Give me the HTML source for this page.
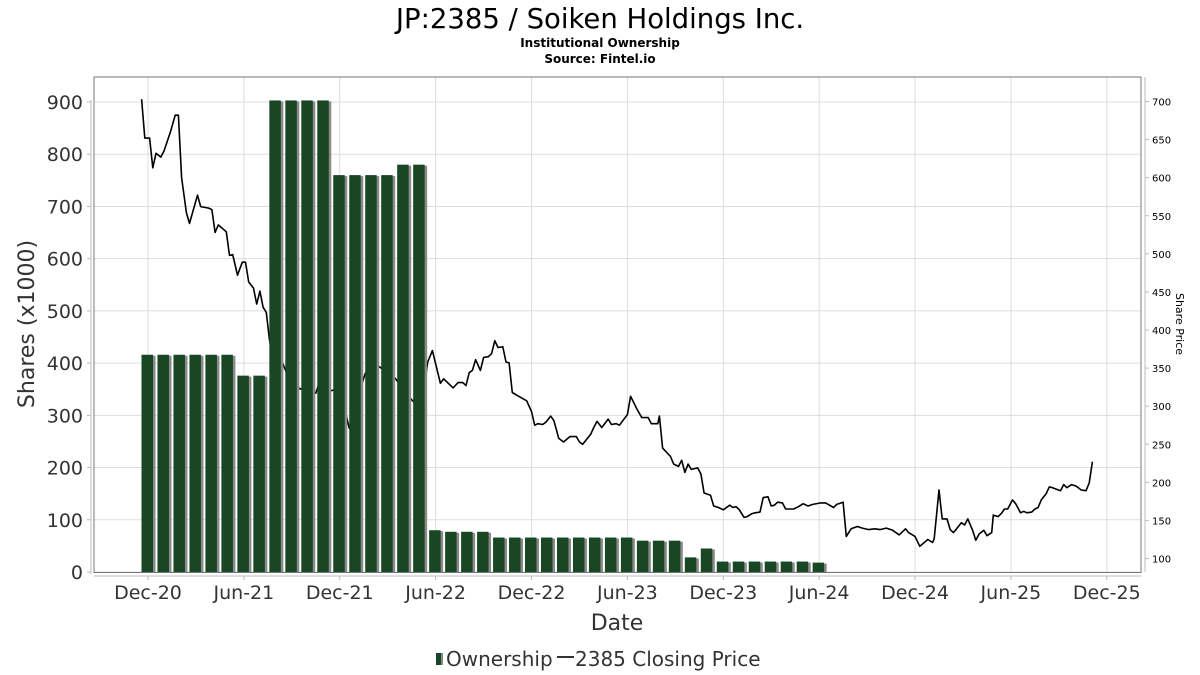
<!DOCTYPE html>
<html><head><meta charset="utf-8">
<style>
body{margin:0;background:#fff;}
svg{display:block;font-family:"DejaVu Sans","Liberation Sans",sans-serif;}
</style></head>
<body>
<svg id="chart" width="1200" height="675" viewBox="0 0 1200 675">
<text x="600" y="28" text-anchor="middle" font-size="27.5" fill="#000">JP:2385 / Soiken Holdings Inc.</text>
<text x="600" y="47" text-anchor="middle" font-size="12" font-weight="bold" fill="#000">Institutional Ownership</text>
<text x="600" y="63" text-anchor="middle" font-size="12" font-weight="bold" fill="#000">Source: Fintel.io</text>
<g id="grid"></g>
<g id="lineg"></g>
<g id="bars"></g>
<rect x="94" y="77" width="1047" height="495.5" fill="none" stroke="#777" stroke-width="1"/>
<line x1="91" y1="100" x2="91" y2="574" stroke="#bbb"/>
<line x1="94" y1="576" x2="1141" y2="576" stroke="#bbb"/>
<line x1="1145" y1="77" x2="1145" y2="572" stroke="#bbb"/>
<g id="axes"></g>
<text x="617" y="630" text-anchor="middle" font-size="22" fill="#333">Date</text>
<text transform="translate(34,324) rotate(-90)" text-anchor="middle" font-size="22" fill="#333">Shares (x1000)</text>
<text transform="translate(1176,324) rotate(90)" text-anchor="middle" font-size="11" fill="#000">Share Price</text>
<g>
<g>
<rect x="436" y="653" width="5" height="12" fill="#1a4723"/><rect x="441" y="653" width="2" height="12" fill="#888"/>
<text x="446" y="666" font-size="20" fill="#333">Ownership</text></g>
<g>
<line x1="557" y1="657" x2="574" y2="657" stroke="#333" stroke-width="2"/>
<text x="575" y="666" font-size="20" fill="#333">2385 Closing Price</text></g>
</g>
</svg>
<script>
const barMonths=[0,1,2,3,4,5,6,7,8,9,10,11,12,13,14,15,16,17,18,19,20,21,22,23,24,25,26,27,28,29,30,31,32,33,34,35,36,37,38,39,40,41,42];
const barValues=[416,416,416,416,416,416,376,376,903,903,903,903,760,760,760,760,780,780,80,77,77,77,66,66,66,66,66,66,66,66,66,60,60,60,28,45,20,20,20,20,20,20,18];
const xTickLabels=["Dec-20","Jun-21","Dec-21","Jun-22","Dec-22","Jun-23","Dec-23","Jun-24","Dec-24","Jun-25","Dec-25"];
const xTickMonths=[0,6,12,18,24,30,36,42,48,54,60];
const leftTicks=[0,100,200,300,400,500,600,700,800,900];
const rightTicks=[100,150,200,250,300,350,400,450,500,550,600,650,700];
const priceMonths=[-0.4,-0.2,0.1,0.3,0.5,0.8,1.0,1.4,1.7,1.9,2.1,2.4,2.6,3.1,3.3,3.8,4.0,4.2,4.4,4.9,5.1,5.3,5.6,5.9,6.1,6.3,6.6,6.8,7.0,7.2,7.4,7.6,8.1,8.4,8.9,9.5,10.5,10.8,11.4,12.0,12.6,13.1,13.6,14.2,14.8,15.5,16.1,16.7,17.1,17.5,17.8,18.3,18.5,18.9,19.1,19.4,19.7,19.9,20.1,20.3,20.5,20.8,21.0,21.3,21.5,21.7,21.9,22.2,22.4,22.6,22.8,23.2,23.7,24.0,24.2,24.4,24.7,24.9,25.2,25.4,25.7,26.0,26.4,26.8,27.0,27.2,27.7,27.9,28.1,28.4,28.8,29.0,29.3,29.5,30.0,30.2,30.6,30.9,31.3,31.5,31.9,32.0,32.2,32.7,32.9,33.2,33.4,33.6,33.8,34.0,34.4,34.6,34.8,35.2,35.4,35.7,36.0,36.4,36.6,36.8,37.0,37.3,37.5,37.8,38.0,38.3,38.5,38.8,39.0,39.2,39.4,39.7,39.9,40.4,40.7,41.0,41.3,41.6,42.1,42.4,42.9,43.1,43.5,43.7,44.0,44.4,44.7,45.1,45.5,45.8,46.2,46.6,47.0,47.4,47.6,48.0,48.3,48.8,49.1,49.2,49.5,49.7,50.0,50.2,50.4,50.6,50.9,51.1,51.3,51.6,51.8,52.0,52.3,52.5,52.8,52.9,53.2,53.4,53.6,53.8,54.1,54.3,54.6,54.8,55.0,55.3,55.5,55.7,55.9,56.2,56.4,56.6,57.1,57.3,57.5,57.8,58.1,58.4,58.7,58.9,59.1];
const priceValues=[703,652,652,613,632,627,635,660,682,682,600,554,540,577,562,560,558,528,538,529,498,499,472,489,489,463,455,434,451,430,423,388,323,358,332,323,317,336,320,323,271,310,343,356,347,336,317,304,297,358,373,330,336,328,324,331,331,327,344,347,361,347,364,365,369,386,377,378,358,357,318,313,307,293,275,277,276,279,287,281,258,253,260,260,253,250,263,272,280,272,283,276,277,275,289,313,296,285,285,277,277,287,245,234,224,221,229,213,224,217,219,211,186,183,169,167,164,170,167,168,164,154,155,159,160,161,180,181,169,170,174,173,165,165,168,172,169,171,173,173,167,171,174,129,139,142,140,138,139,138,140,137,131,139,134,129,116,125,121,126,190,152,152,138,134,139,147,144,152,137,124,132,137,130,134,157,155,159,165,165,177,172,160,162,160,161,165,167,177,185,194,193,189,197,193,197,195,190,189,199,227];

const NS="http://www.w3.org/2000/svg";
function mk(tag,attrs,parent){const e=document.createElementNS(NS,tag);for(const k in attrs)e.setAttribute(k,attrs[k]);parent.appendChild(e);return e;}
const xS=m=>148+m*15.98;
const yL=v=>572-v*(470/900);
const yR=v=>101.5+(700-v)*0.7617;
const grid=document.getElementById('grid'),axes=document.getElementById('axes');
leftTicks.forEach(v=>{
  const l=mk('line',{x1:94,x2:1141,y1:yL(v),y2:yL(v),stroke:'#ddd','stroke-width':1},grid);
  
  
  mk('line',{x1:87,x2:91,y1:yL(v),y2:yL(v),stroke:'#bbb'},axes);
  const t=mk('text',{x:83,y:yL(v)+7,'text-anchor':'end','font-size':19,fill:'#333'},axes);
  t.textContent=v;
  
  
});
xTickMonths.forEach((m,i)=>{
  const x=xS(m);
  const l=mk('line',{x1:x,x2:x,y1:77,y2:572,stroke:'#ddd','stroke-width':1},grid);
  
  
  mk('line',{x1:x,x2:x,y1:576,y2:580,stroke:'#bbb'},axes);
  const t=mk('text',{x:x,y:599,'text-anchor':'middle','font-size':19,fill:'#333'},axes);
  t.textContent=xTickLabels[i];
  
  
});
rightTicks.forEach(v=>{
  mk('line',{x1:1145,x2:1149,y1:yR(v),y2:yR(v),stroke:'#bbb'},axes);
  const t=mk('text',{x:1152,y:yR(v)+4,'font-size':10,fill:'#000'},axes);
  t.textContent=v;
  
  
});
const pts=priceMonths.map((m,i)=>xS(m).toFixed(1)+','+yR(priceValues[i]).toFixed(1)).join(' ');
const pl=mk('polyline',{points:pts,fill:'none',stroke:'#000','stroke-width':1.6,'stroke-linejoin':'round'},document.getElementById('lineg'));


const bg=document.getElementById('bars');
barMonths.forEach((m,i)=>{
  const x=xS(m)-6.5,y=yL(barValues[i]),h=572-y;
  const s=mk('rect',{x:x+2.5,y:y+1,width:11.5,height:h-1,fill:'#8a8a8a'},bg);
  
  
  const r=mk('rect',{x:x,y:y,width:11.5,height:h,fill:'#1a4723'},bg);
  
  
});
</script>
</body></html>
